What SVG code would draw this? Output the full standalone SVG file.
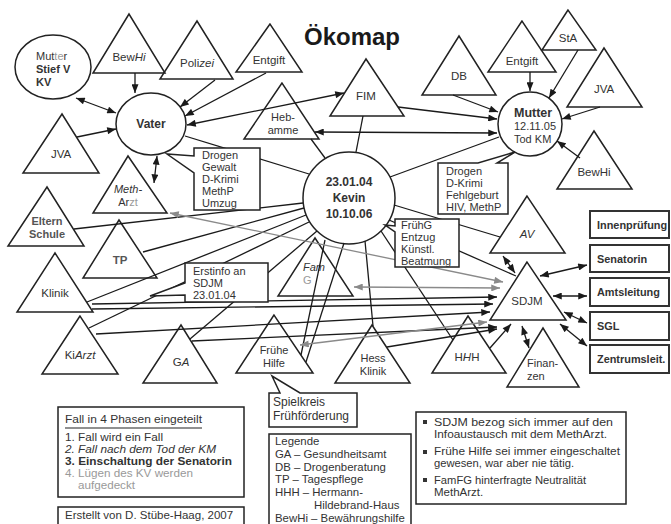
<svg xmlns="http://www.w3.org/2000/svg" width="671" height="524" viewBox="0 0 671 524">
<style>
text{font-family:"Liberation Sans",Arial,Helvetica,sans-serif;font-size:11.5px;fill:#333}
.s{font-size:11px}
.m{text-anchor:middle}
.b{font-weight:bold}
.i{font-style:italic}
.g{fill:#999}
.sh{fill:none;stroke:#222;stroke-width:1.5}
.bx{fill:#fff;stroke:#222;stroke-width:1.5}
.rb{fill:#fff;stroke:#333;stroke-width:2}
.c{stroke:#1a1a1a;stroke-width:1.3;fill:none}
.cg{stroke:#8a8a8a;stroke-width:1.3;fill:none}
.a{marker-end:url(#ah)}
.aa{marker-start:url(#ah);marker-end:url(#ah)}
.ga{marker-start:url(#ahg);marker-end:url(#ahg)}
.rt{font-size:10.9px;font-weight:bold}
.bl{font-size:11.5px}
</style>
<defs>
<marker id="ah" viewBox="0 0 10 8" refX="10" refY="4" markerWidth="10" markerHeight="7" markerUnits="userSpaceOnUse" orient="auto-start-reverse"><path d="M0,0 L10,4 L0,8 z" fill="#1a1a1a"/></marker>
<marker id="ahg" viewBox="0 0 10 8" refX="10" refY="4" markerWidth="10" markerHeight="7" markerUnits="userSpaceOnUse" orient="auto-start-reverse"><path d="M0,0 L10,4 L0,8 z" fill="#8a8a8a"/></marker>
</defs>
<rect width="671" height="524" fill="#fff"/>
<text x="352" y="45" class="m b" style="font-size:24px;fill:#1a1a1a">Ökomap</text>

<g id="nodes-shapes">
<g id="mutter-kv"><ellipse cx="53" cy="67" rx="38" ry="32" class="sh"/><text x="36" y="60" class="s">Mut<tspan class="g">te</tspan>r</text><text x="36" y="73" class="s b">Stief V</text><text x="36" y="86" class="s b">KV</text></g>
<g id="bewhi-l"><polygon points="129,14 93,73 165,73" class="sh"/><text x="129" y="61" class="m">Bew<tspan class="i">Hi</tspan></text></g>
<g id="polizei"><polygon points="197,21 160,79 233,79" class="sh"/><text x="197" y="67" class="m">Poli<tspan class="i">zei</tspan></text></g>
<g id="entgift-l"><polygon points="270,24 236,72 302,72" class="sh"/><text x="269" y="64" class="m">Entgift</text></g>
<g id="fim"><polygon points="366,59 330,116 404,116" class="sh"/><text x="366" y="100" class="m">FIM</text></g>
<g id="hebamme"><polygon points="282,83 244,139 319,139" class="sh"/><text x="283" y="121" class="m s">Heb-</text><text x="283" y="134" class="m s">amme</text></g>
<g id="vater"><ellipse cx="151" cy="124" rx="35" ry="31" class="sh"/><text x="151" y="128" class="m b" style="font-size:12px">Vater</text></g>
<g id="jva-l"><polygon points="62,114 23,173 99,173" class="sh"/><text x="61" y="158" class="m">JVA</text></g>
<g id="metharzt"><polygon points="128,156 93,213 167,213" class="sh"/><text x="128" y="193" class="m i s">Meth-</text><text x="128" y="206" class="m s">Ar<tspan class="g">zt</tspan></text></g>
<g id="elternschule"><polygon points="47,187 8,246 84,246" class="sh"/><text x="47" y="225" class="m b s" style="fill:#555">Eltern</text><text x="47" y="238" class="m b s" style="fill:#555">Schule</text></g>
<g id="tp"><polygon points="119,220 83,278 157,278" class="sh"/><text x="120" y="264" class="m b" style="fill:#555">TP</text></g>
<g id="klinik"><polygon points="55,253 17,312 93,312" class="sh"/><text x="55" y="297" class="m">Klinik</text></g>
<g id="kiarzt"><polygon points="80,316 42,374 118,374" class="sh"/><text x="80" y="359" class="m">Ki<tspan class="i">Arzt</tspan></text></g>
<g id="ga"><polygon points="181,325 143,383 217,383" class="sh"/><text x="181" y="366" class="m">G<tspan class="i">A</tspan></text></g>
<g id="famg"><polygon points="315,238 278,296 353,296" class="sh"/><text x="303" y="271" class="i s">Fam</text><text x="303" y="284" class="g s">G</text></g>
<g id="fruehehilfe"><polygon points="274,315 236,373 313,373" class="sh"/><text x="274" y="354" class="m s">Frühe</text><text x="274" y="367" class="m s">Hilfe</text></g>
<g id="hessklinik"><polygon points="372,325 335,383 410,383" class="sh"/><text x="373" y="362" class="m s">Hess</text><text x="373" y="375" class="m s">Klinik</text></g>
<g id="hhh"><polygon points="468,316 432,373 506,373" class="sh"/><text x="467" y="361" class="m">H<tspan class="i">H</tspan>H</text></g>
<g id="finanzen"><polygon points="543,328 507,387 579,387" class="sh"/><text x="527" y="367" class="s">Finan-</text><text x="527" y="380" class="s">zen</text></g>
<g id="sdjm"><polygon points="527,262 490,320 566,320" class="sh"/><text x="527" y="305" class="m">SDJM</text></g>
<g id="av"><polygon points="527,196 490,253 565,253" class="sh"/><text x="527" y="238" class="m i">AV</text></g>
<g id="db"><polygon points="459,36 422,95 496,95" class="sh"/><text x="459" y="80" class="m">DB</text></g>
<g id="entgift-r"><polygon points="522,21 488,72 556,72" class="sh"/><text x="522" y="65" class="m">Entgift</text></g>
<g id="sta"><polygon points="568,10 542,50 596,50" class="sh"/><text x="568" y="42" class="m">StA</text></g>
<g id="jva-r"><polygon points="604,48 567,107 642,107" class="sh"/><text x="604" y="93" class="m">JVA</text></g>
<g id="bewhi-r"><polygon points="594,131 557,189 632,189" class="sh"/><text x="594" y="176" class="m">BewHi</text></g>
<g id="mutter"><circle cx="530" cy="124" r="32" class="sh"/><text x="514" y="117" class="b" style="font-size:12.5px">Mutter</text><text x="514" y="130" class="s">12.11.05</text><text x="514" y="143" class="s">Tod KM</text></g>
<g id="kevin"><circle cx="349" cy="198" r="46" class="sh"/><text x="349" y="186" class="m b" style="font-size:12px">23.01.04</text><text x="349" y="202" class="m b" style="font-size:12px">Kevin</text><text x="349" y="218" class="m b" style="font-size:12px">10.10.06</text></g>
</g>

<g id="connectors">
<line x1="135" y1="73" x2="135" y2="93" class="c a"/>
<line x1="76" y1="98" x2="116" y2="113" class="c aa"/>
<line x1="77" y1="137" x2="116" y2="129" class="c a"/>
<line x1="215" y1="80" x2="180" y2="107" class="c a"/>
<line x1="266" y1="73" x2="185" y2="116" class="c a"/>
<line x1="344" y1="93" x2="187" y2="125" class="c aa"/>
<line x1="157" y1="156" x2="154" y2="183" class="c aa"/>
<line x1="185" y1="136" x2="309" y2="174" class="c"/>
<line x1="311" y1="139" x2="325" y2="158" class="c"/>
<line x1="363" y1="116" x2="356" y2="152" class="c"/>
<line x1="390" y1="177" x2="499" y2="137" class="c"/>
<line x1="398" y1="107" x2="497" y2="119" class="c a"/>
<line x1="315" y1="132" x2="497" y2="133" class="c aa"/>
<line x1="453" y1="95" x2="498" y2="112" class="c a"/>
<line x1="530" y1="72" x2="530" y2="91" class="c a"/>
<line x1="578" y1="50" x2="549" y2="98" class="c a"/>
<line x1="600" y1="107" x2="562" y2="119" class="c a"/>
<line x1="580" y1="158" x2="557" y2="141" class="c a"/>
<line x1="394" y1="205" x2="500" y2="237" class="c"/>
<line x1="389" y1="220" x2="516" y2="276" class="c"/>
<line x1="381" y1="231" x2="453" y2="340" class="c"/>
<line x1="365" y1="241" x2="373" y2="326" class="c"/>
<line x1="325" y1="240" x2="301" y2="355" class="c"/>
<line x1="344" y1="243" x2="306" y2="362" class="c"/>
<line x1="143" y1="252" x2="304" y2="208" class="c"/>
<line x1="74" y1="229" x2="303" y2="203" class="c"/>
<line x1="87" y1="302" x2="306" y2="215" class="c"/>
<line x1="89" y1="328" x2="309" y2="222" class="c"/>
<line x1="190" y1="339" x2="317" y2="231" class="c"/>
<line x1="92" y1="304" x2="497" y2="297" class="c a"/>
<line x1="92" y1="309" x2="493" y2="304" class="c a"/>
<line x1="96" y1="334" x2="490" y2="312" class="c a"/>
<line x1="192" y1="341" x2="497" y2="327" class="c a"/>
<line x1="387" y1="347" x2="497" y2="329" class="c a"/>
<line x1="490" y1="348" x2="511" y2="324" class="c a"/>
<line x1="170" y1="213" x2="503" y2="282" class="cg ga"/>
<line x1="354" y1="287" x2="500" y2="288" class="cg ga"/>
<line x1="300" y1="345" x2="487" y2="322" class="cg ga"/>
<line x1="503" y1="256" x2="515" y2="273" class="c aa"/>
<line x1="540" y1="276" x2="587" y2="265" class="c aa"/>
<line x1="553" y1="296" x2="587" y2="296" class="c aa"/>
<line x1="564" y1="312" x2="587" y2="323" class="c aa"/>
<line x1="560" y1="324" x2="587" y2="346" class="c aa"/>
<line x1="522" y1="326" x2="529" y2="348" class="c aa"/>
</g>

<g id="boxes">
<g id="vater-note"><polygon points="194,148 260,148 260,210 194,210 194,173 167,154 194,156" class="bx"/><text x="202" y="159" class="s">Drogen</text><text x="202" y="171" class="s">Gewalt</text><text x="202" y="183" class="s">D-Krimi</text><text x="202" y="195" class="s">MethP</text><text x="202" y="207" class="s">Umzug</text></g>
<g id="mutter-note"><polygon points="438,163 478,163 515,152 497,163 508,163 508,214 438,214" class="bx"/><text x="446" y="175" class="s">Drogen</text><text x="446" y="187" class="s">D-Krimi</text><text x="446" y="199" class="s">Fehlgeburt</text><text x="446" y="211" class="s">HIV, MethP</text></g>
<g id="kevin-note"><polygon points="395,219 459,219 459,267 395,267 395,232 385,225 395,226" class="bx"/><text x="401" y="229" class="s">FrühG</text><text x="401" y="241" class="s">Entzug</text><text x="401" y="253" class="s">Künstl.</text><text x="401" y="265" class="s">Beatmung</text></g>
<g id="erstinfo"><polygon points="185,263 268,263 268,302 185,302 185,295 150,296 185,283" class="bx"/><text x="193" y="275" class="s">Erstinfo an</text><text x="193" y="287" class="s">SDJM</text><text x="193" y="299" class="s">23.01.04</text></g>
<g id="spielkreis"><polygon points="269,393 280,393 272,376 300,393 357,393 357,427 269,427" class="bx"/><text x="273" y="406" style="font-size:12px">Spielkreis</text><text x="273" y="420" style="font-size:12px">Frühförderung</text></g>
<g id="innenpruefung"><rect x="590" y="211" width="79" height="27" class="rb"/><text x="597" y="229" class="rt">Innenprüfung</text></g>
<g id="senatorin"><rect x="590" y="245" width="79" height="27" class="rb"/><text x="597" y="263" class="rt">Senatorin</text></g>
<g id="amtsleitung"><rect x="590" y="278" width="79" height="28" class="rb"/><text x="597" y="296" class="rt">Amtsleitung</text></g>
<g id="sgl"><rect x="590" y="312" width="79" height="28" class="rb"/><text x="597" y="330" class="rt">SGL</text></g>
<g id="zentrumsleit"><rect x="590" y="345" width="79" height="28" class="rb"/><text x="597" y="363" class="rt">Zentrumsleit.</text></g>
<g id="phasen"><rect x="58" y="407" width="186" height="90" class="bx"/><text x="65" y="423" textLength="137" lengthAdjust="spacingAndGlyphs">Fall in 4 Phasen eingeteilt</text><line x1="65" y1="428" x2="202" y2="428" stroke="#222" stroke-width="1.2"/><text x="65" y="441" class="s" textLength="98" lengthAdjust="spacingAndGlyphs">1. Fall wird ein Fall</text><text x="65" y="453" class="i s" textLength="151" lengthAdjust="spacingAndGlyphs">2. Fall nach dem Tod der KM</text><text x="65" y="465" class="b s" textLength="167" lengthAdjust="spacingAndGlyphs">3. Einschaltung der Senatorin</text><text x="65" y="477" class="g s" textLength="128" lengthAdjust="spacingAndGlyphs">4. Lügen des KV werden</text><text x="78" y="489" class="g s" textLength="57" lengthAdjust="spacingAndGlyphs">aufgedeckt</text></g>
<g id="erstellt"><rect x="58" y="507" width="186" height="25" class="bx"/><text x="65" y="519">Erstellt von D. Stübe-Haag, 2007</text></g>
<g id="legende"><rect x="269" y="434" width="142" height="98" class="bx"/><text x="275" y="445" style="font-size:11.4px">Legende</text><text x="275" y="458" style="font-size:11.4px">GA – Gesundheitsamt</text><text x="275" y="471" style="font-size:11.4px">DB – Drogenberatung</text><text x="275" y="483" style="font-size:11.4px">TP – Tagespflege</text><text x="275" y="496" style="font-size:11.4px">HHH – Hermann-</text><text x="314" y="509" style="font-size:11.4px">Hildebrand-Haus</text><text x="275" y="522" style="font-size:11.4px">BewHi – Bewährungshilfe</text></g>
<g id="hinweise"><rect x="416" y="412" width="210" height="92" class="bx"/><rect x="423" y="420" width="4" height="4" fill="#333"/><rect x="423" y="450" width="4" height="4" fill="#333"/><rect x="423" y="478" width="4" height="4" fill="#333"/><text x="434" y="426" class="bl" textLength="179" lengthAdjust="spacingAndGlyphs">SDJM bezog sich immer auf den</text><text x="434" y="438" class="bl" textLength="173" lengthAdjust="spacingAndGlyphs">Infoaustausch mit dem MethArzt.</text><text x="434" y="455" class="bl" textLength="186" lengthAdjust="spacingAndGlyphs">Frühe Hilfe sei immer eingeschaltet</text><text x="434" y="467" class="bl" textLength="140" lengthAdjust="spacingAndGlyphs">gewesen, war aber nie tätig.</text><text x="434" y="484" class="bl" textLength="152" lengthAdjust="spacingAndGlyphs">FamFG hinterfragte Neutralität</text><text x="434" y="496" class="bl">MethArzt.</text></g>
</g>
</svg>
